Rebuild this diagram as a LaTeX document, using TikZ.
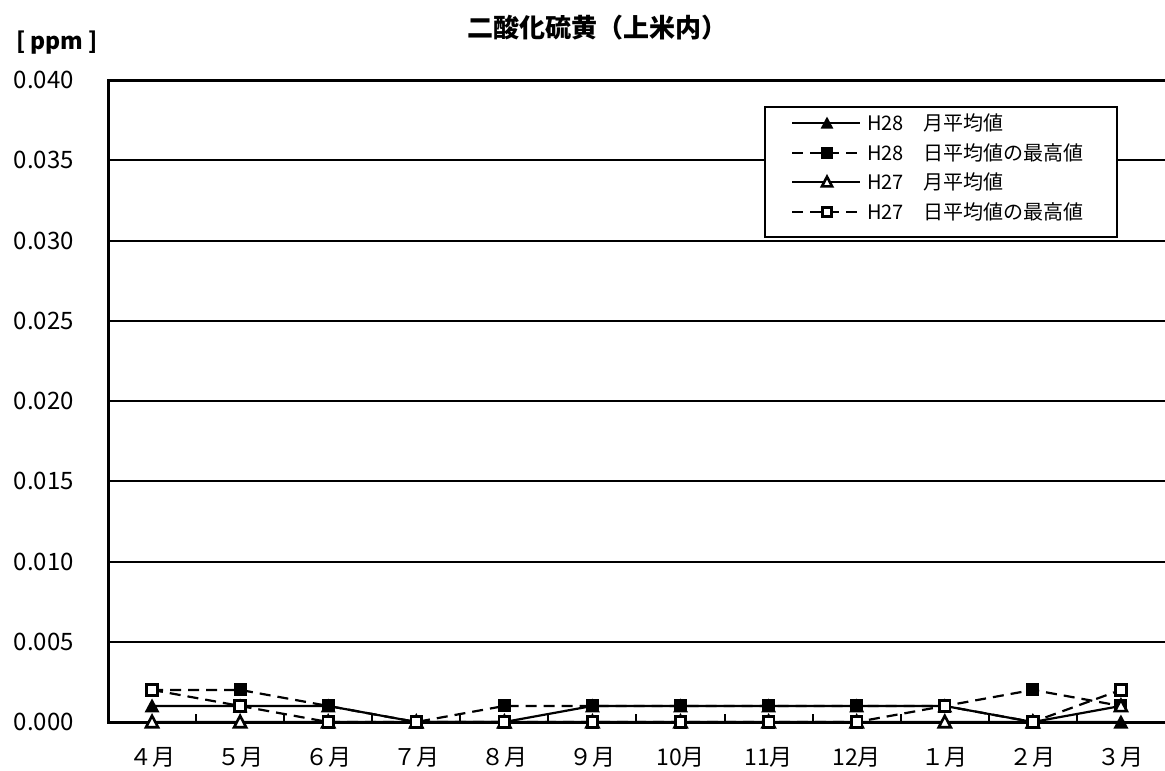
\documentclass[tikz,border=0pt]{standalone}
\usepackage{fontspec}
\setmainfont{Noto Sans CJK JP}
\begin{document}
\begin{tikzpicture}[x=1pt,y=-1pt,
  grid/.style={line width=2pt},
  frame/.style={line width=3pt},
  solidser/.style={line width=2.2pt},
  dashser/.style={line width=2.2pt, dash pattern=on 11pt off 7pt},
  ylab/.style={anchor=east, font=\fontsize{24}{24}\selectfont, inner sep=0pt},
  xlab/.style={font=\fontsize{23}{23}\selectfont, inner sep=0pt},
  legtext/.style={anchor=west, font=\fontsize{20}{20}\selectfont, inner sep=0pt},
  ftri/.pic={\fill (-7.5,6.5) -- (7.5,6.5) -- (0,-7.5) -- cycle;},
  otri/.pic={\draw[line width=2.6pt, fill=white, line join=miter] (-6,5.2) -- (6,5.2) -- (0,-6.2) -- cycle;},
  fsq/.pic={\fill (-6.5,-6.5) rectangle (6.5,6.5);},
  osq/.pic={\draw[line width=2.8pt, fill=white] (-5.3,-5.3) rectangle (5.3,5.3);}
]
\useasboundingbox (0,0) rectangle (1165,771);
\def\cw{88.08}
% grid lines and y labels
\foreach \k/\t in {0/0.000,1/0.005,2/0.010,3/0.015,4/0.020,5/0.025,6/0.030,7/0.035,8/0.040}{
  \draw[grid] (108,{722-80.25*\k}) -- (1165,{722-80.25*\k});
  \node[ylab] (yl\k) at (74,{722-80.25*\k}) {\t};
}
% frame
\draw[frame] (1165,80) -- (108,80) -- (108,722) -- (1165,722);
% ticks
\foreach \k in {1,...,11}{
  \draw[grid] ({108+\cw*\k},722) -- ({108+\cw*\k},714);
}
% month labels
\foreach \m [count=\i] in {４月,５月,６月,７月,８月,９月,10月,11月,12月,１月,２月,３月}{
  \node[xlab] (m\i) at ({108+\cw*(\i-0.5)},757) {\m};
}
% data coordinates
\foreach \v [count=\i] in {1,1,1,0,0,1,1,1,1,1,0,0}
  \coordinate (A\i) at ({108+\cw*(\i-0.5)},{722-16.05*\v});
\foreach \v [count=\i] in {2,2,1,0,1,1,1,1,1,1,2,1}
  \coordinate (B\i) at ({108+\cw*(\i-0.5)},{722-16.05*\v});
\foreach \v [count=\i] in {0,0,0,0,0,0,0,0,0,0,0,1}
  \coordinate (C\i) at ({108+\cw*(\i-0.5)},{722-16.05*\v});
\foreach \v [count=\i] in {2,1,0,0,0,0,0,0,0,1,0,2}
  \coordinate (D\i) at ({108+\cw*(\i-0.5)},{722-16.05*\v});
% series
\draw[solidser] (A1) \foreach \i in {2,...,12}{ -- (A\i)};
\foreach \i in {1,...,12} \pic at (A\i) {ftri};
\draw[dashser] (B1) \foreach \i in {2,...,12}{ -- (B\i)};
\foreach \i in {1,...,12} \pic at (B\i) {fsq};
\draw[solidser] (C1) \foreach \i in {2,...,12}{ -- (C\i)};
\foreach \i in {1,...,12} \pic at (C\i) {otri};
\draw[dashser] (D1) \foreach \i in {2,...,12}{ -- (D\i)};
\foreach \i in {1,...,12} \pic at (D\i) {osq};
% legend
\draw[line width=1.8pt, fill=white] (765,107) rectangle (1117,237);
\foreach \y/\st/\mk/\lab/\txt [count=\j] in {
  123/solidser/ftri/H28/月平均値,
  153/dashser/fsq/H28/日平均値の最高値,
  182/solidser/otri/H27/月平均値,
  212/dashser/osq/H27/日平均値の最高値}{
  \coordinate (ls\j) at (792,\y);
  \coordinate (le\j) at (860,\y);
  \draw[\st] (ls\j) -- (le\j);
  \pic[scale=0.85] at (827,\y) {\mk};
  \node[legtext] (lt\j) at (867,\y) {\makebox[56pt][l]{\lab}\txt};
}
% titles
\node[font=\fontsize{26}{26}\selectfont\bfseries, inner sep=0pt] (title) at (597,28) {二酸化硫黄（上米内）};
\node[font=\fontsize{23}{23}\selectfont\bfseries, inner sep=0pt] (unit) at (57,43) {[\ ppm\ ]};
\end{tikzpicture}
\end{document}
